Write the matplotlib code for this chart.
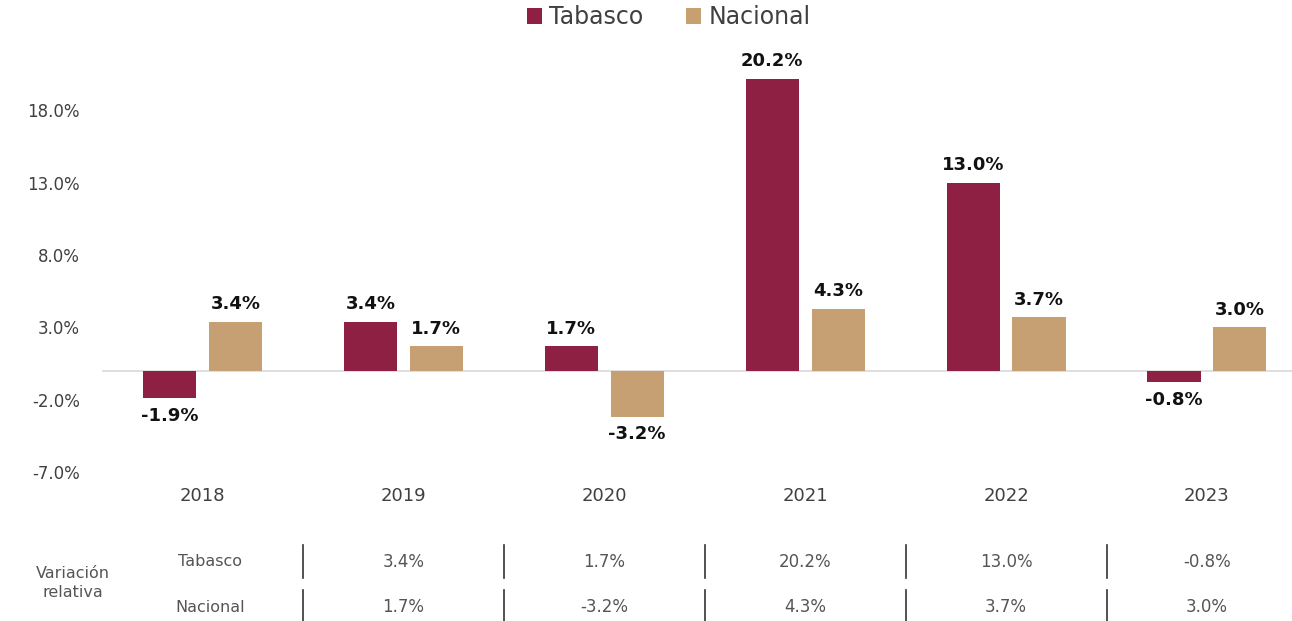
import matplotlib.pyplot as plt
import matplotlib.transforms as mtransforms
import numpy as np

# datos de la grafica
years = ["2018", "2019", "2020", "2021", "2022", "2023"]
tabasco = [-1.9, 3.4, 1.7, 20.2, 13.0, -0.8]
nacional = [3.4, 1.7, -3.2, 4.3, 3.7, 3.0]
y_ticks = [-7.0, -2.0, 3.0, 8.0, 13.0, 18.0]

# tabla inferior (2019 - 2023)
tabla_tabasco = tabasco[1:]
tabla_nacional = nacional[1:]

COLOR_TAB = "#8E2043"
COLOR_NAC = "#C6A073"
TEXT = "#404040"

plt.rcParams["font.family"] = ["DejaVu Sans"]

fig = plt.figure(figsize=(12.92, 6.21), dpi=100)
ax = fig.add_axes([102 / 1292, 1 - 472 / 621, 1 - 102 / 1292, (472 - 38) / 621])

x = np.arange(len(years))
w = 0.264
off = 0.164
bars_t = ax.bar(x - off, tabasco, w, color=COLOR_TAB, label="Tabasco")
bars_n = ax.bar(x + off, nacional, w, color=COLOR_NAC, label="Nacional")

for bars, vals in ((bars_t, tabasco), (bars_n, nacional)):
    for b, v in zip(bars, vals):
        cx = b.get_x() + b.get_width() / 2
        if v >= 0:
            ax.annotate(f"{v:.1f}%", (cx, v), xytext=(0, 6), textcoords="offset points",
                        ha="center", va="bottom", fontsize=13, fontweight="bold", color="#111111")
        else:
            ax.annotate(f"{v:.1f}%", (cx, v), xytext=(0, -6), textcoords="offset points",
                        ha="center", va="top", fontsize=13, fontweight="bold", color="#111111")

ax.axhline(0, color="#D9D9D9", linewidth=1.2, zorder=0)

ax.set_xlim(-0.5, (1292 - 203) / 200.8)
ax.set_ylim(-7, 23)
ax.set_yticks(y_ticks)
ax.set_yticklabels([f"{t:.1f}%" for t in y_ticks])
ax.set_xticks(x)
ax.set_xticklabels(years)
ax.tick_params(axis="y", length=0, pad=16, labelsize=12, labelcolor=TEXT)
ax.tick_params(axis="x", length=0, pad=11, labelsize=13, labelcolor=TEXT)
for s in ax.spines.values():
    s.set_visible(False)

ax.legend(loc="center", bbox_to_anchor=(0.476, 1 + (38 - 17) / 434), ncol=2, frameon=False,
          fontsize=17, handlelength=0.65, handleheight=0.65, handletextpad=0.3,
          columnspacing=1.8, labelcolor=TEXT, borderaxespad=0)

# tabla de variacion relativa
tr = mtransforms.blended_transform_factory(ax.transData, fig.transFigure)


def fy(py):
    return 1 - py / 621


fig.text(73 / 1292, fy(583), "Variación\nrelativa", ha="center", va="center",
         fontsize=11.5, color="#555555", linespacing=1.3)
ax.text(0.04, fy(562), "Tabasco", transform=tr, ha="center", va="center",
        fontsize=11.5, color="#555555")
ax.text(0.04, fy(607), "Nacional", transform=tr, ha="center", va="center",
        fontsize=11.5, color="#555555")

for i, (vt, vn) in enumerate(zip(tabla_tabasco, tabla_nacional)):
    col = i + 1
    ax.text(col, fy(562), f"{vt:.1f}%", transform=tr, ha="center", va="center",
            fontsize=12, color="#555555")
    ax.text(col, fy(607), f"{vn:.1f}%", transform=tr, ha="center", va="center",
            fontsize=12, color="#555555")
    sep = col - 0.5
    ax.plot([sep, sep], [fy(545), fy(578)], transform=tr, color="#333333",
            linewidth=1.2, clip_on=False)
    ax.plot([sep, sep], [fy(590), fy(621)], transform=tr, color="#333333",
            linewidth=1.2, clip_on=False)

fig.savefig("out.png", dpi=100)
